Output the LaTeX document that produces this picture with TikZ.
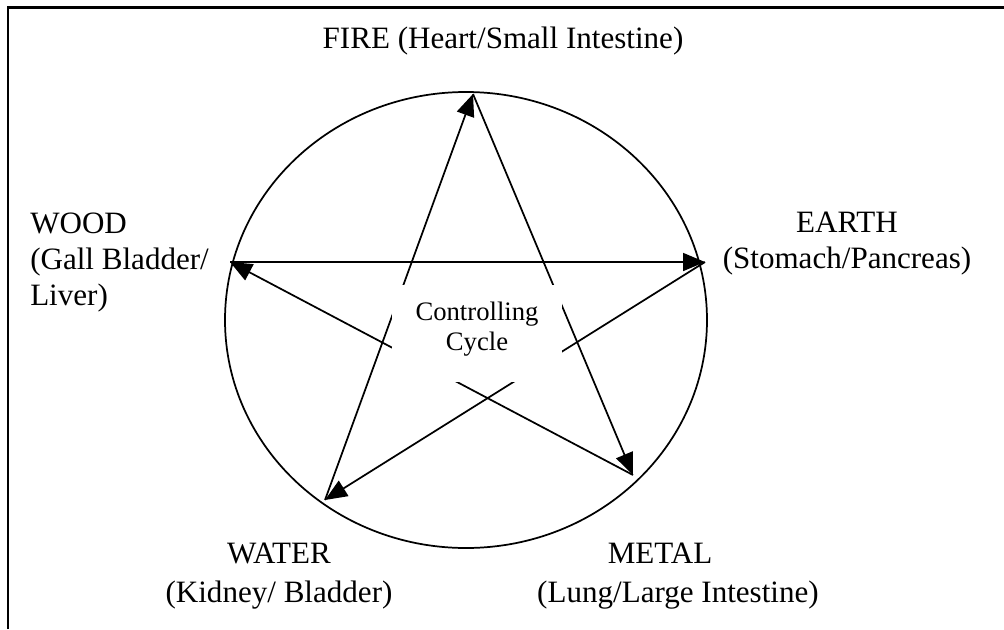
\documentclass[tikz,border=0pt]{standalone}
\usepackage{fontspec}
\setmainfont{Liberation Serif}
\usetikzlibrary{arrows.meta,shapes.geometric}
\begin{document}
\begin{tikzpicture}[x=0.75pt,y=-0.75pt,
  lbl/.style={font=\fontsize{23.3}{27}\selectfont, inner sep=0pt, anchor=base},
  lblw/.style={lbl, anchor=base west},
  ctext/.style={font=\fontsize{20}{22.5}\selectfont, inner sep=0pt, align=center},
  mask/.style={fill=white, draw=none, inner sep=0pt, minimum width=127.5pt, minimum height=72.75pt},
  ring/.style={draw, ellipse, line width=1.3pt, inner sep=0pt, minimum width=361.5pt, minimum height=342pt},
  ctrl/.style={line width=1.3pt, -{Triangle[length=16.5pt,width=13.5pt]}},
  frame/.style={line width=1.6pt}]
\useasboundingbox (0,0) rectangle (1004,629);
% outer ring
\node[ring] (cyc) at (466,320) {};
% star vertices
\coordinate (F)  at (473,94);
\coordinate (Wd) at (230,262);
\coordinate (E)  at (705,262);
\coordinate (Wa) at (325,500);
\coordinate (M)  at (633,475);
% controlling cycle arrows
\draw[ctrl] (Wd) -- (E);
\draw[ctrl] (E) -- (Wa);
\draw[ctrl] (Wa) -- (F);
\draw[ctrl] (F) -- (M);
\draw[ctrl] (M) -- (Wd);
% centre label
\node[mask] (cbox) at (477,333.5) {};
\node[ctext] (ctxt) at (477,329) {Controlling\\Cycle};
% element labels
\node[lbl] (fire) at (503,48) {FIRE (Heart/Small Intestine)};
\node[lblw] (wood1) at (30,233) {WOOD};
\node[lblw] (wood2) at (30,269) {(Gall Bladder/};
\node[lblw] (wood3) at (30,305) {Liver)};
\node[lbl] (earth1) at (847,232) {EARTH};
\node[lbl] (earth2) at (847,268) {(Stomach/Pancreas)};
\node[lbl] (water1) at (279,563) {WATER};
\node[lbl] (water2) at (279,602) {(Kidney/ Bladder)};
\node[lbl] (metal1) at (660,563) {METAL};
\node[lbl] (metal2) at (678,602) {(Lung/Large Intestine)};
% frame
\draw[frame] (8,629) -- (8,7.5) -- (1004,7.5);
\end{tikzpicture}
\end{document}
